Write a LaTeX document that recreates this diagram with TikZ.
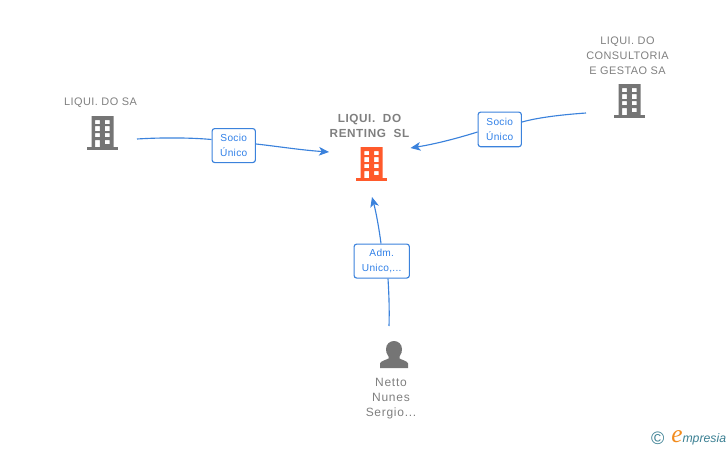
\documentclass[tikz,border=0pt]{standalone}
\usepackage{fontspec}
\setmainfont{Liberation Sans}
\definecolor{linkblue}{HTML}{3B82DC}
\definecolor{boxtext}{HTML}{3080E8}
\definecolor{namegrey}{HTML}{7F7F7F}
\definecolor{icongrey}{HTML}{757575}
\definecolor{iconorange}{HTML}{FF5A2B}
\definecolor{logoteal}{HTML}{3A7F92}
\definecolor{logoorange}{HTML}{F28C1E}
\usetikzlibrary{arrows.meta}
\tikzset{
  x=0.75pt,y=-0.75pt,
  link/.style={linkblue,line width=0.85pt},
  linkarrow/.style={link,-{Stealth[length=7.5pt,width=6.5pt,inset=2pt]}},
  linkbox/.style={draw=linkblue,fill=white,line width=0.85pt,rounded corners=2pt,
    text=boxtext,font=\fontsize{7.6}{11}\selectfont\addfontfeatures{LetterSpace=3},align=center,inner sep=0pt,anchor=north west},
  namelabel/.style={text=namegrey,font=\fontsize{8.2}{11.3}\selectfont\addfontfeatures{LetterSpace=4},align=center,inner sep=0pt},
  personlabel/.style={text=namegrey,font=\fontsize{9}{11.3}\selectfont\addfontfeatures{LetterSpace=6},align=center,inner sep=0pt},
  mainlabel/.style={text=namegrey,font=\bfseries\fontsize{8.8}{11.3}\selectfont\addfontfeatures{LetterSpace=5},align=center,inner sep=0pt},
  pics/building/.style={code={
    \fill[#1,even odd rule]
      (-11,0) rectangle (11,31)
      (-7.3,4) rectangle (-2.7,8) (2.3,4) rectangle (7,8)
      (-7.3,10) rectangle (-2.7,15) (2.3,10) rectangle (7,15)
      (-7.3,17) rectangle (-2.7,21) (2.3,17) rectangle (7,21)
      (-7.3,24) rectangle (-2.7,31) (2.3,24) rectangle (7,28);
    \fill[#1] (-15.7,31) rectangle (15.7,34);
  }}
}
\begin{document}
\begin{tikzpicture}
\useasboundingbox (0,0) rectangle (728,450);
% icons
\pic at (102.5,116) {building=icongrey};
\pic at (371.7,147) {building=iconorange};
\pic at (629.5,84) {building=icongrey};
% person
\fill[icongrey] (380,368) -- (380,363.5) .. controls (380.5,361) and (386,360) .. (388.5,358.5)
  -- (388.5,356.5) .. controls (386.5,354.5) and (386,351) .. (386,349)
  .. controls (386,344) and (390,341) .. (394,341)
  .. controls (398,341) and (402,344) .. (402,349)
  .. controls (402,351) and (401.5,354.5) .. (399.5,356.5)
  -- (399.5,358.5) .. controls (402,360) and (407.5,361) .. (408,363.5) -- (408,368) -- cycle;
% labels
\node[namelabel] (leftname) at (100.5,102.5) {LIQUI. DO SA};
\node[mainlabel] (mainname) at (369.5,126) {LIQUI.\ \ DO\\RENTING\ \ SL};
\node[namelabel] (rightname) at (627.5,56) {LIQUI. DO\\CONSULTORIA\\E GESTAO SA};
\node[personlabel] (personname) at (391,398.5) {Netto\\Nunes\\Sergio...};
% connector ends
\coordinate (leftstart) at (137,139);
\coordinate (leftend) at (329,152);
\coordinate (rightstart) at (586,113);
\coordinate (rightend) at (410.5,148);
\coordinate (personstart) at (389,326);
\coordinate (mainbottom) at (372,197);
% boxes
\node[linkbox,minimum width=32.5pt,minimum height=25.5pt] (sociol) at (211.5,128) {Socio\\Único};
\node[linkbox,minimum width=32.5pt,minimum height=26pt] (socior) at (477.5,111.5) {Socio\\Único};
\node[linkbox,minimum width=41.5pt,minimum height=25.5pt] (adm) at (353.5,243.5) {Adm.\\Unico,...};
% connectors
\draw[link] (leftstart) .. controls (160,137.5) and (190,137.5) .. (sociol.west |- 0,139.5);
\draw[linkarrow] (sociol.east |- 0,144) .. controls (275,146) and (300,150) .. (leftend);
\draw[link] (rightstart) .. controls (565,114.5) and (540,117) .. (socior.east |- 0,122);
\draw[linkarrow] (socior.west |- 0,132) .. controls (455,139) and (435,144) .. (rightend);
\draw[link] (personstart) .. controls (389.5,310) and (389,295) .. (adm.south -| 388,0);
\draw[linkarrow] (adm.north -| 381,0) .. controls (379,228) and (376,212) .. (mainbottom);
% logo
\node[inner sep=0pt,text=logoteal,font=\fontsize{13.5}{13.5}\selectfont] (copyr) at (657.7,438.5) {©};
\node[inner sep=0pt,anchor=base west,font=\itshape\fontsize{9.2}{10}\selectfont] (logo) at (671,442)
  {\textcolor{logoorange}{\fontspec{Liberation Serif}\itshape\fontsize{19}{19}\selectfont e}\textcolor{logoteal}{mpresia}};
\end{tikzpicture}
\end{document}
